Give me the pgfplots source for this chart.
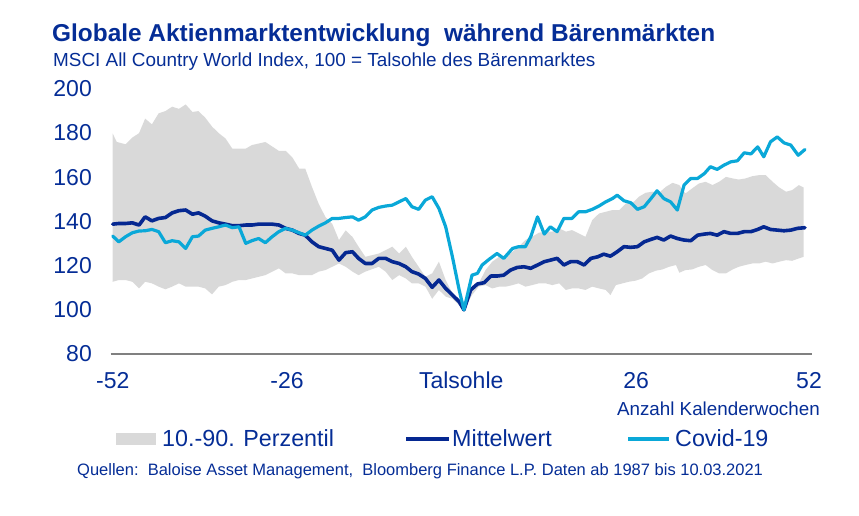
\documentclass[border=0pt]{standalone}
\usepackage{fontspec}
\setmainfont{Liberation Sans}
\usepackage{pgfplots}
\pgfplotsset{compat=1.18}
\usepackage{pgfplotstable}
\usepgfplotslibrary{fillbetween}
\definecolor{textblue}{RGB}{5,45,150}
\definecolor{meanblue}{RGB}{5,40,145}
\definecolor{covidblue}{RGB}{10,168,216}
\definecolor{bandgray}{RGB}{217,217,217}
\definecolor{axisgray}{RGB}{128,128,128}

\pgfplotstableread{
x y
-52.0 179.8
-51.4 176
-50.1 175
-49.1 178
-48.1 180
-47.2 186.6
-46.2 184
-45.2 189
-44.2 190
-43.2 192
-42.2 191
-41.2 193
-40.2 189.6
-39.3 190
-38.3 187
-37.3 183
-36.3 180
-35.3 177.6
-34.3 173
-32.3 173
-31.4 174.6
-29.4 176
-27.4 172
-26.4 172
-25.4 169
-24.4 164
-23.5 164
-22.5 155.7
-21.5 148
-20.5 142
-19.5 139
-18.5 131.6
-17.5 136
-16.5 133
-15.6 128.6
-14.6 124
-12.6 125.5
-11.6 127
-10.6 128.6
-9.6 125.5
-8.6 128.6
-7.7 124
-6.7 119.5
-5.7 115
-4.7 116.5
-3.7 121.8
-2.7 113.5
-1.7 107.5
0 100
1.2 110.5
2.2 112
3.2 118
4.2 121.8
5.2 124
6.2 124
7.2 126.3
8.1 128.6
9.1 131.6
10.1 133.1
11.1 134.9
12.1 135.4
13.1 135.4
14.1 136.9
15.1 135.4
16.0 136.1
17.0 134.6
18.0 133.1
19.0 140.6
20.0 143.6
21.0 144.4
22.0 145.2
23.0 145.2
24.0 148.2
24.9 148.2
25.9 151.2
26.9 153
27.9 153.5
28.9 153
29.9 155.7
30.9 157.5
31.9 156.5
32.8 152.7
33.8 155
34.8 157.2
35.8 158
36.8 156.5
37.8 158
38.8 160.2
39.8 159.5
40.7 159
41.7 159.5
42.7 160.5
43.7 161
44.7 161
45.7 158
46.7 155.4
47.7 153.5
48.6 154.2
49.6 156.5
50.3 155.4
}\upperband

\pgfplotstableread{
x y
-52.0 112.7
-51.1 113.5
-50.1 113.5
-49.1 112.7
-48.1 109.7
-47.2 112.7
-46.2 112
-45.2 110.5
-44.2 109.3
-43.2 110.5
-42.2 112
-41.2 110.5
-40.2 110.5
-39.3 110.5
-38.3 109.7
-37.3 107
-36.3 110.5
-35.3 111.2
-34.3 112.7
-33.3 113.5
-32.3 113.5
-31.4 114.2
-29.4 115.7
-27.4 118.8
-26.4 116.5
-25.4 116.5
-24.4 115.7
-23.5 115.7
-22.5 115.7
-21.5 117.3
-20.5 118
-19.5 119.5
-18.5 121
-17.5 119.5
-16.5 117.3
-15.6 115.7
-14.6 117.3
-12.6 119.5
-11.6 117.3
-10.6 113.5
-9.6 115.7
-8.6 114.2
-7.7 112
-6.7 112
-5.7 110.5
-4.7 105
-3.7 109
-2.7 106
-1.7 105
0 100
1.2 106.7
2.2 110.5
3.2 111.2
4.2 109.7
5.2 110.5
6.2 110.5
7.2 111.2
8.1 112
9.1 110.5
10.1 111.2
11.1 112
12.1 112
13.1 111.2
14.1 112
15.1 109
16.0 109.7
17.0 109.7
18.0 109
19.0 110.5
20.0 109.7
21.0 109
21.7 106.7
22.5 111.2
23.5 112
24.4 112.7
25.4 113.2
26.4 114.2
27.4 116.5
28.4 117.7
29.4 118.3
30.4 119.5
31.4 120.3
31.9 116.8
32.8 118
33.8 118.3
34.8 119.5
35.8 120.3
36.8 118
37.8 116.5
38.8 116.5
39.8 118.3
40.7 119.5
41.7 120.3
42.7 121
43.7 121
44.7 121.8
45.7 121
46.7 121.8
47.7 122.5
48.6 122.2
49.6 123.3
50.3 124
}\lowerband

\pgfplotstableread{
x y
-52.0 138.8
-51.1 139.1
-50.1 139.1
-49.1 139.4
-48.1 138.4
-47.2 142.1
-46.2 140.3
-45.2 141.4
-44.2 141.8
-43.2 143.9
-42.2 144.9
-41.2 145.2
-40.2 143.3
-39.3 143.9
-38.3 142.4
-37.3 140.3
-36.3 139.4
-35.3 138.8
-34.3 138.1
-33.3 138.1
-32.3 138.4
-31.4 138.4
-30.4 138.8
-29.4 138.8
-28.4 138.8
-27.4 138.4
-26.4 136.9
-25.4 136.1
-24.4 134.6
-23.5 133.8
-22.5 130.8
-21.5 128.6
-20.5 127.8
-19.5 127
-18.5 122.5
-17.5 125.9
-16.5 126.3
-15.6 123.3
-14.6 121
-13.6 121
-12.6 123.3
-11.6 123.3
-10.6 121.8
-9.6 121
-8.6 119.5
-7.7 117.3
-6.7 116.2
-5.7 114.2
-4.7 110.2
-3.7 113.5
-2.7 109.7
-1.7 106.7
-0.7 103.7
0 100
1.0 109
2.0 111.7
3.0 112.3
4.0 115.3
4.9 115.3
5.9 115.7
6.9 118
7.9 119.2
8.9 119.5
9.9 118.8
10.9 120.3
11.9 121.8
12.8 122.5
13.8 123.3
14.8 120.3
15.8 121.8
16.8 121.8
17.8 120.3
18.8 123.3
19.8 124
20.7 125.2
21.7 124.3
22.7 126.3
23.7 128.6
24.7 128.3
25.7 128.6
26.7 130.8
27.7 131.9
28.6 132.8
29.6 131.6
30.6 133.4
31.6 132.3
32.6 131.6
33.6 131.3
34.6 133.8
35.6 134.3
36.5 134.6
37.5 133.8
38.5 135.4
39.5 134.6
40.5 134.6
41.5 135.4
42.5 135.4
43.5 136.4
44.4 137.6
45.4 136.4
46.4 136.1
47.4 135.8
48.4 136.1
49.4 136.9
50.5 137.2
}\meanline

\pgfplotstableread{
x y
-52.0 133.4
-51.1 130.8
-50.1 133.1
-49.1 134.9
-48.1 135.7
-47.2 135.8
-46.2 136.4
-45.2 135.4
-44.2 130.4
-43.2 131.3
-42.2 130.8
-41.2 127.8
-40.2 133.1
-39.3 133.4
-38.3 136.1
-37.3 136.9
-36.3 137.6
-35.3 138.4
-34.3 137.2
-33.3 137.6
-32.3 130.1
-31.4 131.3
-30.4 132.3
-29.4 130.4
-28.4 133.1
-27.4 135.4
-26.4 136.9
-25.4 136.1
-24.4 134.9
-23.5 133.8
-22.5 136.1
-21.5 137.9
-20.5 139.4
-19.5 141.4
-18.5 141.4
-17.5 141.8
-16.5 142.1
-15.6 140.6
-14.6 142.1
-13.6 145.2
-12.6 146.4
-11.6 147
-10.6 147.4
-9.6 148.9
-8.6 150.4
-7.7 146.7
-6.7 145.5
-5.7 149.7
-4.7 151.2
-3.7 145.9
-2.7 137.6
-1.7 124
-0.7 109
0 100
1.2 115.7
2.0 116.5
2.7 120.3
3.7 122.8
4.9 125.5
5.9 123.3
7.2 127.8
8.1 128.6
9.1 128.6
9.9 133.1
10.9 142.1
11.9 134.3
12.8 137.6
13.8 135.4
14.8 141.4
16.0 141.4
17.0 144.4
18.0 144.4
19.0 145.5
20.0 147
21.0 148.9
22.0 150.4
22.7 151.9
23.7 149.4
24.7 148.5
25.7 145.5
26.7 146.7
27.7 150.4
28.6 153.9
29.6 150.4
30.6 148.9
31.6 145.2
32.6 156.5
33.6 159.5
34.6 159.5
35.6 161.7
36.5 164.8
37.5 163.6
38.5 165.5
39.5 167
40.5 167.5
41.5 171.1
42.5 170.6
43.5 173.8
44.4 169.3
45.4 176.1
46.4 178.3
47.4 175.6
48.4 174.6
49.5 170
50.5 172.6
}\covidline

\begin{document}
\begin{tikzpicture}
\begin{axis}[
  at={(110.7pt,161pt)}, anchor=south west,
  scale only axis, width=701pt, height=265pt,
  xmin=-52.3, xmax=51.5, ymin=80, ymax=200,
  axis x line*=bottom, axis y line*=left,
  x axis line style={draw=axisgray, line width=1.6pt, -},
  y axis line style={draw=none},
  major tick length=0pt,
  xtick={-52,-26.2,-0.4,25.5,51.1},
  xticklabels={-52,-26,Talsohle,26,52},
  ytick={80,100,...,200},
  /pgf/number format/assume math mode=true,
  xticklabel style={font=\fontsize{23}{27}\selectfont, text=textblue, anchor=base, inner sep=0pt, yshift=-34pt},
  yticklabel style={font=\fontsize{23}{27}\selectfont, text=textblue, anchor=base east, inner sep=0pt, xshift=-18.7pt, yshift=-7.7pt},
  clip=false,
]
\addplot[draw=none, name path=upper] table[x=x,y=y] {\upperband};
\addplot[draw=none, name path=lower] table[x=x,y=y] {\lowerband};
\addplot[fill=bandgray, draw=none] fill between[of=upper and lower];
\addplot[meanblue, line width=3.6pt, line join=round, line cap=round] table[x=x,y=y] {\meanline};
\addplot[covidblue, line width=3.2pt, line join=round, line cap=round] table[x=x,y=y] {\covidline};
\end{axis}
% titles
\node[anchor=base west, inner sep=0pt, text=textblue, font=\bfseries\fontsize{24.4}{28}\selectfont] at (52pt,473.5pt) {Globale Aktienmarktentwicklung\ \ während Bärenmärkten};
\node[anchor=base west, inner sep=0pt, text=textblue, font=\fontsize{18.9}{22}\selectfont] at (53pt,448pt) {MSCI All Country World Index, 100 = Talsohle des Bärenmarktes};
\node[anchor=base east, inner sep=0pt, text=textblue, font=\fontsize{18.8}{22}\selectfont] at (820pt,100pt) {Anzahl Kalenderwochen};
% legend
\fill[bandgray] (116pt,70pt) rectangle (156pt,82pt);
\node[anchor=base west, inner sep=0pt, text=textblue, font=\fontsize{23.3}{27}\selectfont] at (162pt,69pt) {10.-90. Perzentil};
\draw[meanblue, line width=3.6pt] (406pt,76pt) -- (449pt,76pt);
\node[anchor=base west, inner sep=0pt, text=textblue, font=\fontsize{23.3}{27}\selectfont] at (452pt,69pt) {Mittelwert};
\draw[covidblue, line width=3.2pt] (628pt,76pt) -- (669pt,76pt);
\node[anchor=base west, inner sep=0pt, text=textblue, font=\fontsize{23.3}{27}\selectfont] at (675pt,69pt) {Covid-19};
% footer
\node[anchor=base west, inner sep=0pt, text=textblue, font=\fontsize{16.5}{20}\selectfont] at (77pt,40pt) {Quellen:\ \ Baloise Asset Management,\ \ Bloomberg Finance L.P. Daten ab 1987 bis 10.03.2021};
\pgfresetboundingbox
\path[use as bounding box] (0pt,0pt) rectangle (859pt,515pt);
\end{tikzpicture}
\end{document}
